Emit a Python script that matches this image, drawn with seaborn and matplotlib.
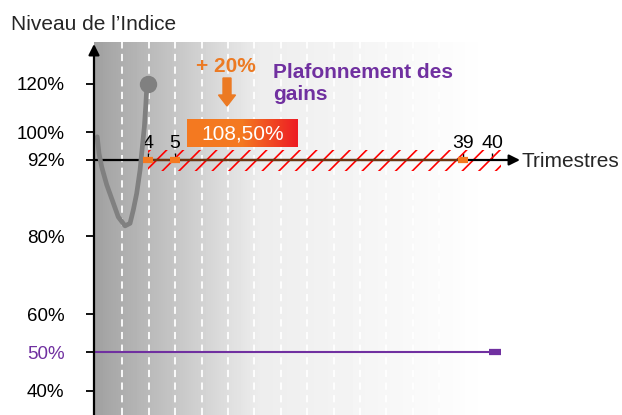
import numpy as np
import matplotlib
matplotlib.use("Agg")
import matplotlib.pyplot as plt
from matplotlib.patches import FancyArrow
from matplotlib.transforms import IdentityTransform
import seaborn as sns

sns.set_theme(style="white")
plt.rcParams["font.family"] = ["Liberation Sans", "DejaVu Sans"]
plt.rcParams["hatch.linewidth"] = 1.2

# --- data ---
level_ticks = [40, 50, 60, 80, 92, 100, 120]          # % of initial index
quarter_ticks = [4, 5, 39, 40]                         # trimestres
curve_q = [0.24, 0.37, 0.57, 0.94, 1.43, 1.80, 2.30, 2.67, 2.91, 3.16,
           3.41, 3.58, 3.73, 3.83, 3.90, 3.95]
curve_lvl = [98.7, 93.9, 90.9, 88.1, 85.2, 83.0, 81.6, 82.0, 84.1, 86.7,
             90.4, 95.8, 102.3, 110.6, 117.5, 120.0]
last_point = (4, 120)
barrier = 92          # capital protection level / time axis
cap_obs = [4, 5, 39]  # observation dates marked in orange
cap_span = [4, 39]
hatch_span = [4, 40.3]
hatch_band = (90.3, 94.9)
floor_level = 50
floor_end = 40.1
gain_label = "+ 20%"
coupon_label = "108,50%"

ORANGE = "#F47920"
RED = "#ED1C24"
PURPLE = "#7030A0"
GREY = "#808080"

# --- schematic (non linear) scales, as in the original slide ---
def piecewise(keys, pos):
    k = np.asarray(keys, float)
    p = np.asarray(pos, float)
    s0 = (p[1] - p[0]) / (k[1] - k[0])
    s1 = (p[-1] - p[-2]) / (k[-1] - k[-2])
    k_ext = np.r_[k[0] - 1000, k, k[-1] + 1000]
    p_ext = np.r_[p[0] - 1000 * s0, p, p[-1] + 1000 * s1]
    return (lambda v: np.interp(v, k_ext, p_ext),
            lambda v: np.interp(v, p_ext, k_ext))

x_fwd, x_inv = piecewise([0, 4, 5, 39, 40], [0, 54, 81, 369, 398])
y_fwd, y_inv = piecewise(level_ticks, [24.3, 62.7, 100.7, 179, 255, 282.7, 331])

W, H = 622, 415
fig = plt.figure(figsize=(W / 100, H / 100), dpi=100)
rect = [94 / W, 0, 516 / W, 373 / H]

# background gradient + dashed separators
bg = fig.add_axes(rect, zorder=0)
cols = np.arange(516)
grad = np.interp(cols, [0, 166, 236, 396, 516], [0.63, 0.93, 0.95, 1.0, 1.0])
bg.imshow(grad[np.newaxis, :], cmap="gray", vmin=0, vmax=1, aspect="auto",
          extent=[0, 1, 0, 1])
sep = (122.3 + 26.4 * np.arange(14) - 94) / 516
bg.vlines(sep, 0, 1, colors="white", linestyles=(0, (4, 3)), lw=1.3)
bg.set_xlim(0, 1)
bg.set_ylim(0, 1)
bg.axis("off")

ax = fig.add_axes(rect, zorder=1)
ax.patch.set_alpha(0)
ax.set_xscale("function", functions=(x_fwd, x_inv))
ax.set_yscale("function", functions=(y_fwd, y_inv))
ax.set_xlim(x_inv(0), x_inv(516))
ax.set_ylim(y_inv(0), y_inv(373))
for s in ax.spines.values():
    s.set_visible(False)

# hatched cap band
ax.fill_between(hatch_span, hatch_band[0], hatch_band[1], facecolor="none",
                edgecolor="red", hatch="//", lw=0, zorder=2)

# axes arrows
ax.annotate("", xy=(0, 1.0 - 2 / 373), xytext=(0, 0), xycoords="axes fraction",
            arrowprops=dict(arrowstyle="-|>", color="black", lw=1.6,
                            mutation_scale=16, shrinkA=0, shrinkB=0), zorder=5)
ax.annotate("", xy=(x_inv(426), barrier), xytext=(0, barrier), xycoords="data",
            arrowprops=dict(arrowstyle="-|>", color="black", lw=1.6,
                            mutation_scale=16, shrinkA=0, shrinkB=0), zorder=3)
ax.plot(cap_span, [barrier] * 2, color="#6e3510", lw=1.6, zorder=4)
ax.plot(cap_obs, [barrier] * len(cap_obs), ls="none", marker="_", ms=7,
        mew=4.5, color=ORANGE, zorder=5)

# floor line
ax.plot([0, floor_end], [floor_level] * 2, color=PURPLE, lw=1.5, zorder=3)
ax.plot([floor_end], [floor_level], ls="none", marker="_", ms=8.5, mew=4.5,
        color=PURPLE, zorder=3)

# index path
sns.lineplot(x=curve_q, y=curve_lvl, ax=ax, color=GREY, lw=3.4, sort=False,
             zorder=4)
ax.plot([last_point[0]], [last_point[1]], marker="o", ms=11.5, color=GREY,
        zorder=4)

# ticks
ax.set_yticks(level_ticks, labels=[f"{v}%" for v in level_ticks])
ax.tick_params(axis="y", which="major", left=True, direction="out", length=5.8,
               width=1.3, pad=15.5, labelsize=13.5, colors="black")
for t, v in zip(ax.yaxis.get_major_ticks(), level_ticks):
    if v == floor_level:
        t.tick1line.set_color(PURPLE)
        t.label1.set_color(PURPLE)
ax.xaxis.set_ticks_position("top")
ax.spines["top"].set_position(("data", barrier))
ax.set_xticks(quarter_ticks, labels=[str(q) for q in quarter_ticks])
ax.tick_params(axis="x", which="major", top=True, bottom=False, direction="out",
               length=5, width=1, pad=1, labelsize=14, colors="black")
ax.minorticks_off()
ax.set_xlabel("")
ax.set_ylabel("")

# texts
fig.text(11 / W, 1 - 25 / H, "Niveau de l\u2019Indice", fontsize=15,
         va="center", ha="left")
fig.text(522 / W, 1 - 161 / H, "Trimestres", fontsize=15, va="center", ha="left")
fig.text(273 / W, 1 - 84 / H, "Plafonnement des\ngains", fontsize=15,
         fontweight="bold", color=PURPLE, va="center", ha="left", linespacing=1.2)
fig.text(226 / W, 1 - 67 / H, gain_label, fontsize=15, fontweight="bold",
         color="#EC7A23", va="center", ha="center")
fig.add_artist(FancyArrow(227, H - 78, 0, -28, width=8, head_width=17,
                          head_length=11, length_includes_head=True,
                          color="#EC7A23", transform=IdentityTransform()))

# coupon box
box = fig.add_axes([187 / W, (H - 147) / H, 111 / W, 28 / H], zorder=3)
t = np.linspace(0, 1, 111)
mix = np.clip((t - 0.5) / 0.5, 0, 1)[:, None]
c0 = np.array(matplotlib.colors.to_rgb(ORANGE))
c1 = np.array(matplotlib.colors.to_rgb(RED))
box.imshow((c0 * (1 - mix) + c1 * mix)[np.newaxis, :, :], aspect="auto",
           extent=[0, 1, 0, 1])
box.text(0.5, 0.48, coupon_label, color="white", fontsize=15, ha="center",
         va="center")
box.axis("off")

fig.savefig("out.png", dpi=100)
